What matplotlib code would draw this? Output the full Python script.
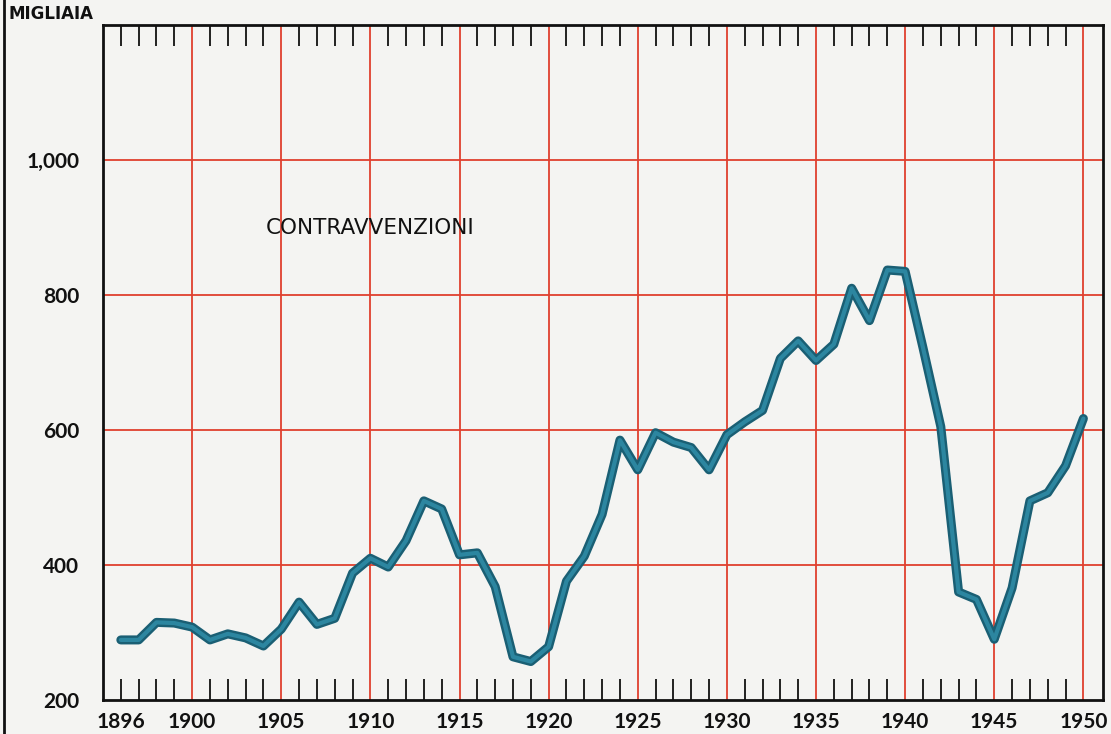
import matplotlib
matplotlib.use("Agg")
import matplotlib.pyplot as plt
from matplotlib.lines import Line2D

years = list(range(1896, 1951))
values = [289, 289, 315, 314, 308, 289, 298, 292, 280, 305,
          345, 312, 321, 388, 410, 397, 436, 495, 483, 415,
          418, 368, 264, 257, 279, 376, 413, 475, 585, 541,
          596, 582, 574, 541, 593, 612, 629, 706, 732, 703,
          727, 810, 762, 837, 835, 722, 605, 360, 349, 290,
          366, 495, 507, 547, 617]

x_ticks = [1896, 1900, 1905, 1910, 1915, 1920, 1925, 1930, 1935, 1940, 1945, 1950]
y_ticks = [200, 400, 600, 800, 1000]
y_labels = ["200", "400", "600", "800", "1,000"]
grid_x = [1900, 1905, 1910, 1915, 1920, 1925, 1930, 1935, 1940, 1945, 1950]
grid_y = [400, 600, 800, 1000]
year_ticks = [y for y in years if y % 5 != 0]

plt.rcParams['font.family'] = ['Lato', 'DejaVu Sans']
bg = '#f4f4f2'
fig = plt.figure(figsize=(11.11, 7.34), dpi=100, facecolor=bg)
ax = fig.add_axes([103/1111, 1 - 700/734, (1103-103)/1111, (700-25)/734])
ax.set_facecolor(bg)
ax.set_xlim(1895, 1951.1)
ax.set_ylim(200, 1200)
ax.xaxis.remove_overlapping_locs = False

red = '#e0402f'
for gx in grid_x:
    ax.axvline(gx, color=red, lw=1.3, zorder=1)
for gy in grid_y:
    ax.axhline(gy, color=red, lw=1.3, zorder=1)

ax.plot(years, values, color='#1a5f74', lw=6.5, solid_joinstyle='round',
        solid_capstyle='round', zorder=3)
ax.plot(years, values, color='#2c86a0', lw=3.0, solid_joinstyle='round',
        solid_capstyle='round', zorder=4)

for s in ax.spines.values():
    s.set_color('#111111')
    s.set_linewidth(2)

ax.set_xticks(x_ticks)
ax.set_xticklabels([str(t) for t in x_ticks], fontsize=15, fontweight='bold')
ax.set_xticks(year_ticks, minor=True)
ax.tick_params(axis='x', which='major', length=0, pad=9, colors='#111111')
ax.tick_params(axis='x', which='minor', direction='in', length=15, width=1.3,
               top=True, bottom=True, color='#111111')
ax.set_yticks(y_ticks)
ax.set_yticklabels(y_labels, fontsize=15, fontweight='bold')
ax.tick_params(axis='y', which='major', length=0, pad=17, colors='#111111')

ax.text(1910.0, 900, 'CONTRAVVENZIONI', fontsize=15.5, ha='center', va='center',
        color='#111111', family='DejaVu Sans', zorder=5)

fig.text(8/1111, 1 - 14/734, 'MIGLIAIA', fontsize=12, fontweight='bold',
         ha='left', va='center', color='#111111', family='DejaVu Sans')
fig.add_artist(Line2D([4/1111, 4/1111], [0, 1], transform=fig.transFigure,
                      color='#111111', lw=2))

fig.savefig('out.png', dpi=100, facecolor=bg)
